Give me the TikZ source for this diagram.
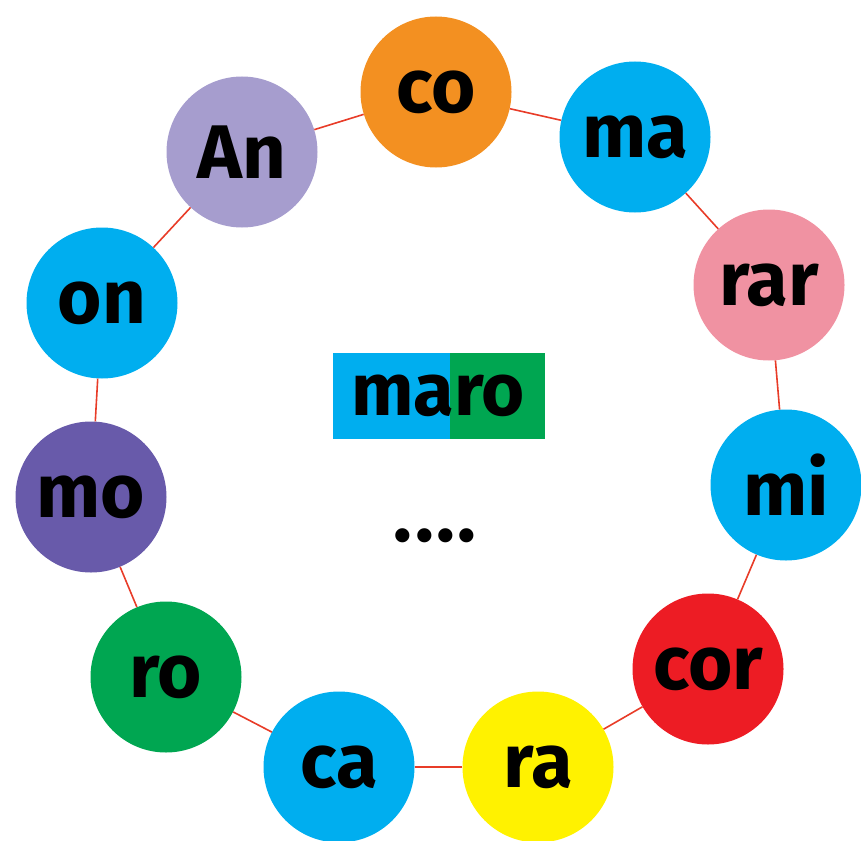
\documentclass[tikz,border=0pt]{standalone}
\usepackage{fontspec}
\setmainfont{Fira Sans}
\definecolor{cyanc}{RGB}{0,174,239}
\definecolor{orangec}{RGB}{243,144,33}
\definecolor{pinkc}{RGB}{240,146,162}
\definecolor{redc}{RGB}{237,28,36}
\definecolor{yellowc}{RGB}{255,242,0}
\definecolor{greenc}{RGB}{0,166,81}
\definecolor{purplec}{RGB}{104,90,170}
\definecolor{lavc}{RGB}{166,157,206}
\definecolor{linec}{RGB}{232,60,40}
\begin{document}
\begin{tikzpicture}[x=1pt,y=-1pt,
  syl/.style={circle,minimum size=151pt,inner sep=0pt,text=black,
    font=\fontsize{76}{76}\selectfont\bfseries},
  link/.style={draw=linec,line width=1.6pt}]
\useasboundingbox (0,0) rectangle (861,840);
\node[syl,fill=orangec] (co) at (436,92) {co};
\node[syl,fill=cyanc] (ma) at (635,137) {ma};
\node[syl,fill=pinkc] (rar) at (769,285) {rar};
\node[syl,fill=cyanc] (mi) at (786,485) {mi};
\node[syl,fill=redc] (cor) at (708,669) {cor};
\node[syl,fill=yellowc] (ra) at (538,767) {ra};
\node[syl,fill=cyanc] (ca) at (339,767) {ca};
\node[syl,fill=greenc] (ro) at (166,677) {ro};
\node[syl,fill=purplec] (mo) at (91,497) {mo};
\node[syl,fill=cyanc] (on) at (102,303) {on};
\node[syl,fill=lavc] (An) at (242,152) {An};
\foreach \a/\b in {co/ma,ma/rar,rar/mi,mi/cor,cor/ra,ra/ca,ca/ro,ro/mo,mo/on,on/An,An/co}
  \draw[link] (\a) -- (\b);
\fill[cyanc] (333,353) rectangle (450,439);
\fill[greenc] (450,353) rectangle (545,439);
\node[anchor=base,inner sep=0pt,font=\fontsize{74}{74}\selectfont\bfseries] (word) at (438,415) {maro};
\node[anchor=base,inner sep=0pt,font=\fontsize{78}{78}\selectfont\bfseries] (dots) at (435,541) {.\kern2.5pt.\kern2.5pt.\kern2.5pt.};
\end{tikzpicture}
\end{document}
